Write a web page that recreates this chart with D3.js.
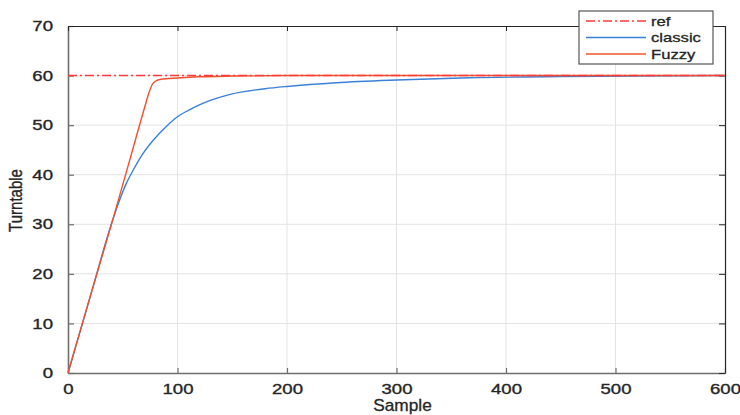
<!DOCTYPE html>
<html>
<head>
<meta charset="utf-8">
<script src="https://cdn.jsdelivr.net/npm/d3@7"></script>
<style>
  html, body { margin: 0; padding: 0; background: #fff; }
  svg { display: block; }
  text { font-family: "Liberation Sans", Arial, sans-serif; fill: #262626; }
</style>
</head>
<body>
<svg id="chart" width="740" height="415"></svg>
<script>
// Step responses of the turntable: reference, classic controller, fuzzy controller
const samples      = [0, 20, 41, 47, 53, 60, 68, 78, 90, 100, 110, 120, 130, 140, 150, 165, 180, 200, 245, 300, 366, 450, 520, 600];
const classicVals  = [0, 15.2, 31.0, 34.8, 38.1, 41.1, 44.1, 47.0, 49.8, 51.7, 53.0, 54.1, 55.0, 55.7, 56.3, 56.9, 57.35, 57.8, 58.55, 59.1, 59.55, 59.8, 59.92, 60];
const fuzzySamples = [0, 20, 41, 60, 70, 74, 77, 80, 85, 100, 120, 150, 200, 300, 400, 500, 600];
const fuzzyVals    = [0, 15.2, 31.0, 45.8, 53.6, 56.6, 58.2, 58.9, 59.25, 59.5, 59.75, 59.9, 60, 60, 60, 60, 60];
const refValue     = 60;
const xTicks = [0, 100, 200, 300, 400, 500, 600];
const yTicks = [0, 10, 20, 30, 40, 50, 60, 70];
const legendLabels = ["ref", "classic", "Fuzzy"];

const colors = { ref: "#ff3a3a", classic: "#3a80d8", fuzzy: "#f0502a" };
const SX = 1.28; // horizontal text stretch

const svg = d3.select("#chart");
const m = { left: 68, right: 15, top: 26, bottom: 42 };
const W = 740, H = 415;
const x = d3.scaleLinear().domain([0, 600]).range([m.left, W - m.right]);
const y = d3.scaleLinear().domain([0, 70]).range([H - m.bottom, m.top]);

// grid
const grid = svg.append("g");
grid.selectAll("line.v").data(xTicks.slice(1, -1)).join("line")
  .attr("x1", d => x(d)).attr("x2", d => x(d))
  .attr("y1", y(0)).attr("y2", y(70))
  .attr("stroke", "#e3e3e3").attr("stroke-width", 1);
grid.selectAll("line.h").data(yTicks.slice(1, -1)).join("line")
  .attr("x1", x(0)).attr("x2", x(600))
  .attr("y1", d => y(d)).attr("y2", d => y(d))
  .attr("stroke", "#e3e3e3").attr("stroke-width", 1);

// axes with inward ticks
const xAxis = svg.append("g").attr("transform", `translate(0,${y(0)})`)
  .call(d3.axisBottom(x).tickValues(xTicks).tickSizeInner(-5).tickSizeOuter(0).tickPadding(11));
const yAxis = svg.append("g").attr("transform", `translate(${x(0)},0)`)
  .call(d3.axisLeft(y).tickValues(yTicks).tickSizeInner(-6).tickSizeOuter(0).tickPadding(15));
const xTop = svg.append("g").attr("transform", `translate(0,${y(70)})`)
  .call(d3.axisTop(x).tickValues(xTicks).tickSizeInner(-5).tickSizeOuter(0).tickFormat(""));
const yRight = svg.append("g").attr("transform", `translate(${x(600)},0)`)
  .call(d3.axisRight(y).tickValues(yTicks).tickSizeInner(-6).tickSizeOuter(0).tickFormat(""));

[xAxis, yAxis].forEach(g => {
  g.select(".domain").attr("stroke", "#6e6e6e").attr("stroke-width", 1.6);
  g.selectAll(".tick line").attr("stroke", "#6e6e6e").attr("stroke-width", 1.2);
  g.selectAll(".tick text").attr("font-size", 14.5).attr("fill", "#262626")
    .attr("stroke", "#262626").attr("stroke-width", 0.35)
    .attr("font-family", "Liberation Sans, Arial, sans-serif");
});
[xTop, yRight].forEach(g => {
  g.select(".domain").attr("stroke", "#262626").attr("stroke-width", 1.2);
  g.selectAll(".tick line").attr("stroke", "#262626").attr("stroke-width", 1);
});
// stretch tick labels horizontally around their anchor
xAxis.selectAll(".tick text").attr("transform", `scale(${SX},1)`);
yAxis.selectAll(".tick text").each(function () {
  const t = d3.select(this);
  const xx = +t.attr("x");
  t.attr("x", xx / SX).attr("transform", `scale(${SX},1)`);
});

// series
const line = d3.line().curve(d3.curveMonotoneX);
svg.append("path")
  .attr("d", line(samples.map((s, i) => [x(s), y(classicVals[i])])))
  .attr("fill", "none").attr("stroke", colors.classic).attr("stroke-width", 1.4);
svg.append("path")
  .attr("d", line(fuzzySamples.map((s, i) => [x(s), y(fuzzyVals[i])])))
  .attr("fill", "none").attr("stroke", colors.fuzzy).attr("stroke-width", 1.4);
svg.append("path")
  .attr("d", line([[x(0), y(refValue)], [x(600), y(refValue)]]))
  .attr("fill", "none").attr("stroke", colors.ref).attr("stroke-width", 1.4)
  .attr("stroke-dasharray", "9,3,2,3");

// axis titles
svg.append("text")
  .attr("transform", `translate(${(x(0) + x(600)) / 2 + 6},411) scale(1.08,1)`)
  .attr("text-anchor", "middle").attr("font-size", 16)
  .attr("stroke", "#262626").attr("stroke-width", 0.3).text("Sample");
svg.append("text")
  .attr("transform", `translate(22,${(y(0) + y(70)) / 2 + 1}) scale(${SX},1) rotate(-90)`)
  .attr("text-anchor", "middle").attr("font-size", 15)
  .attr("stroke", "#262626").attr("stroke-width", 0.3).text("Turntable");

// legend
const lg = svg.append("g");
lg.append("rect").attr("x", 579).attr("y", 11).attr("width", 134).attr("height", 53)
  .attr("fill", "#fff").attr("stroke", "#555").attr("stroke-width", 1.2);
const legendStyles = [
  { color: colors.ref, dash: "9,3,2,3" },
  { color: colors.classic, dash: null },
  { color: colors.fuzzy, dash: null }
];
legendLabels.forEach((lab, i) => {
  const cy = 21 + i * 16.5;
  lg.append("line").attr("x1", 586).attr("x2", 646).attr("y1", cy).attr("y2", cy)
    .attr("stroke", legendStyles[i].color).attr("stroke-width", 1.4)
    .attr("stroke-dasharray", legendStyles[i].dash);
  lg.append("text")
    .attr("transform", `translate(651,${cy + 4.8}) scale(${SX},1)`)
    .attr("font-size", 13).attr("stroke", "#262626").attr("stroke-width", 0.3).text(lab);
});
</script>
</body>
</html>
